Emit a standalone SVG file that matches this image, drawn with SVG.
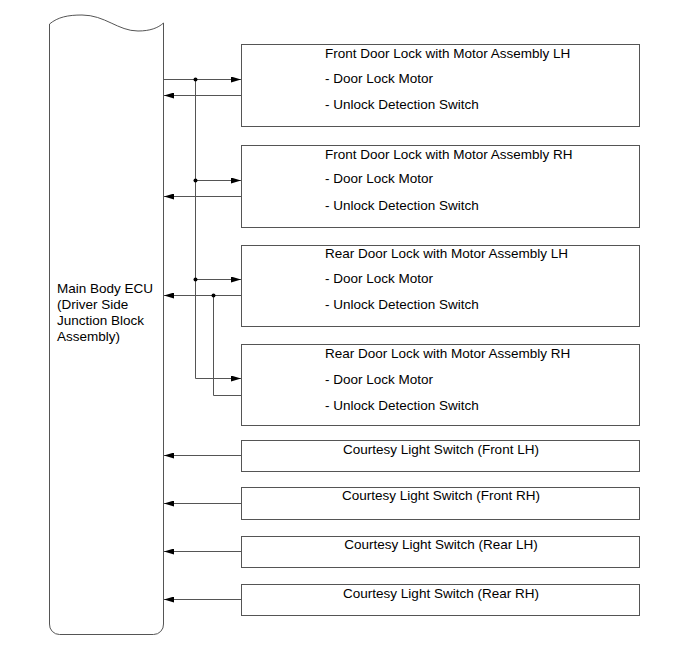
<svg xmlns="http://www.w3.org/2000/svg" width="689" height="659" viewBox="0 0 689 659">
<style>
.box{fill:#fff;stroke:#555;stroke-width:1}
.w{fill:none;stroke:#555;stroke-width:1}
.t{font-family:"Liberation Sans",Arial,sans-serif;font-size:13.5px;fill:#000}
.c{text-anchor:middle}
.dot{fill:#000}
</style>
<defs>
<marker id="ah" viewBox="0 0 10 6" refX="10" refY="3" markerWidth="10" markerHeight="6" markerUnits="userSpaceOnUse" orient="auto">
<path d="M0,0 L10,3 L0,6 z" fill="#000"/>
</marker>
</defs>
<rect width="689" height="659" fill="#fff"/>
<g id="ecu">
<path class="box" d="M49.5,24 C58,17 68,15 82,15 C105,15 118,31 138,31 C150,31 158,28 163.5,23 L163.5,624 A10,10 0 0 1 153.5,634.5 L59.5,634.5 A10,10 0 0 1 49.5,624 Z"/>
<text class="t" x="57" y="293">Main Body ECU</text>
<text class="t" x="57" y="309">(Driver Side</text>
<text class="t" x="57" y="325">Junction Block</text>
<text class="t" x="57" y="341">Assembly)</text>
</g>
<g id="fdl-lh">
<rect class="box" x="241.5" y="44.5" width="398" height="82"/>
<text class="t" x="325" y="58">Front Door Lock with Motor Assembly LH</text>
<text class="t" x="325" y="83">- Door Lock Motor</text>
<text class="t" x="325" y="109">- Unlock Detection Switch</text>
</g>
<g id="fdl-rh">
<rect class="box" x="241.5" y="145.5" width="398" height="82"/>
<text class="t" x="325" y="159">Front Door Lock with Motor Assembly RH</text>
<text class="t" x="325" y="183">- Door Lock Motor</text>
<text class="t" x="325" y="210">- Unlock Detection Switch</text>
</g>
<g id="rdl-lh">
<rect class="box" x="241.5" y="245.5" width="398" height="81"/>
<text class="t" x="325" y="258">Rear Door Lock with Motor Assembly LH</text>
<text class="t" x="325" y="283">- Door Lock Motor</text>
<text class="t" x="325" y="309">- Unlock Detection Switch</text>
</g>
<g id="rdl-rh">
<rect class="box" x="241.5" y="344.5" width="398" height="81"/>
<text class="t" x="325" y="358">Rear Door Lock with Motor Assembly RH</text>
<text class="t" x="325" y="384">- Door Lock Motor</text>
<text class="t" x="325" y="410">- Unlock Detection Switch</text>
</g>
<g id="cls-flh">
<rect class="box" x="241.5" y="440.5" width="398" height="31"/>
<text class="t c" x="441" y="454">Courtesy Light Switch (Front LH)</text>
</g>
<g id="cls-frh">
<rect class="box" x="241.5" y="487.5" width="398" height="32"/>
<text class="t c" x="441" y="500">Courtesy Light Switch (Front RH)</text>
</g>
<g id="cls-rlh">
<rect class="box" x="241.5" y="536.5" width="398" height="31"/>
<text class="t c" x="441" y="549">Courtesy Light Switch (Rear LH)</text>
</g>
<g id="cls-rrh">
<rect class="box" x="241.5" y="584.5" width="398" height="31"/>
<text class="t c" x="441" y="598">Courtesy Light Switch (Rear RH)</text>
</g>
<g id="connectors">
<path class="w" d="M164,79.5 H241" marker-end="url(#ah)"/>
<path class="w" d="M195.5,79.5 V378.5 H241" marker-end="url(#ah)"/>
<path class="w" d="M195.5,180.5 H241" marker-end="url(#ah)"/>
<path class="w" d="M195.5,279.5 H241" marker-end="url(#ah)"/>
<path class="w" d="M241,95.5 H164" marker-end="url(#ah)"/>
<path class="w" d="M241,196.5 H164" marker-end="url(#ah)"/>
<path class="w" d="M241,295.5 H164" marker-end="url(#ah)"/>
<path class="w" d="M213.5,295.5 V395.5 H241"/>
<path class="w" d="M241,455.5 H164" marker-end="url(#ah)"/>
<path class="w" d="M241,503.5 H164" marker-end="url(#ah)"/>
<path class="w" d="M241,551.5 H164" marker-end="url(#ah)"/>
<path class="w" d="M241,599.5 H164" marker-end="url(#ah)"/>
<circle class="dot" cx="195.5" cy="79.5" r="2"/>
<circle class="dot" cx="195.5" cy="180.5" r="2"/>
<circle class="dot" cx="195.5" cy="279.5" r="2"/>
<circle class="dot" cx="213.5" cy="295.5" r="2"/>
</g>
</svg>
